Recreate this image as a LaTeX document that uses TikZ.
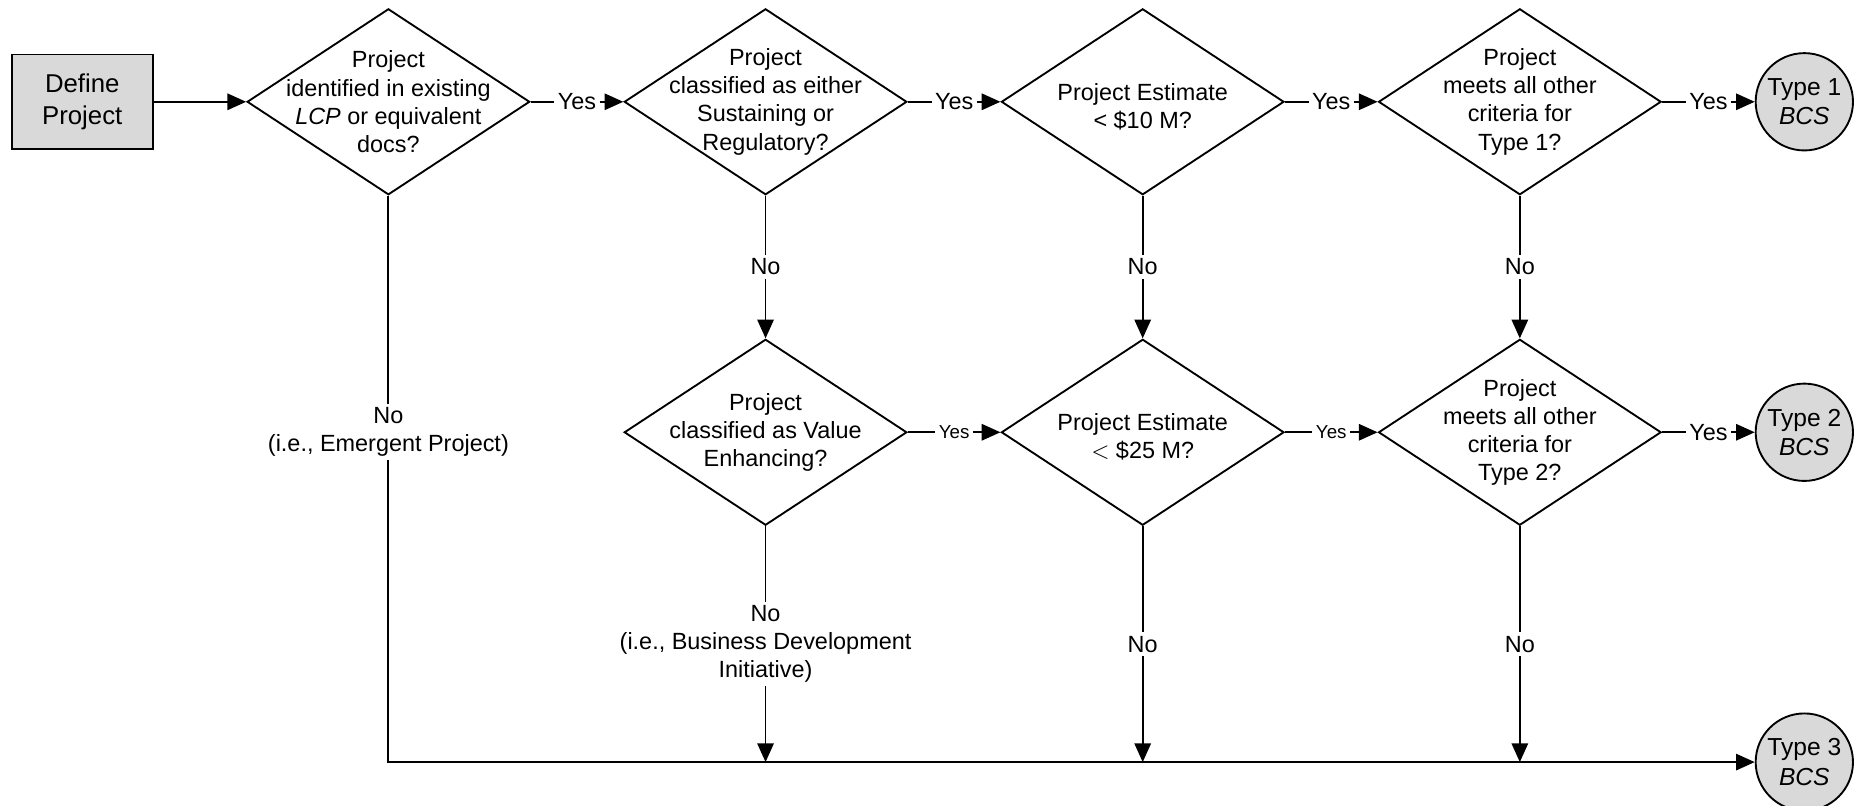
\documentclass[tikz,border=0pt]{standalone}
\usepackage{fontspec}
\setmainfont{Liberation Sans}
\usetikzlibrary{arrows.meta, shapes.geometric, positioning}
\definecolor{termgray}{RGB}{217, 217, 217}
\definecolor{linedark}{RGB}{0, 0, 0}
\tikzset{
  startbox/.style={
    rectangle, draw=linedark, fill=termgray, line width=0.8pt,
    minimum width=2.11cm, minimum height=1.42cm, align=center,
    font=\fontsize{11}{13.5}\selectfont
  },
  decision/.style={
    diamond, draw=linedark, line width=0.8pt, inner sep=0pt,
    minimum width=4.24cm, minimum height=2.79cm
  },
  qtext/.style={align=center},
  bcsnode/.style={
    circle, draw=linedark, fill=termgray, line width=0.8pt,
    inner sep=0pt, minimum size=1.46cm, align=center,
    font=\fontsize{10.5}{12.5}\selectfont
  },
  arrow/.style={-{Triangle[length=8pt,width=7pt]}, line width=0.8pt},
  lbl/.style={fill=white, inner sep=1.5pt, align=center},
  smalllbl/.style={lbl, font=\footnotesize}
}

\begin{document}
\begin{tikzpicture}[node distance=2.14cm and 1.39cm]

  \useasboundingbox (0,0) rectangle (27.83,-12.09);

  %% ---- Top row ----
  \node[startbox] (define) at (1.234,-1.527) {Define\\Project};

  \node[decision, right=of define,
    label={[qtext]center:Project\\identified in existing\\\textit{LCP} or equivalent\\docs?}] (d1) {};

  \node[decision, right=of d1,
    label={[qtext]center:Project\\classified as either\\Sustaining or\\Regulatory?}] (d2) {};

  \node[decision, right=of d2,
    label={[qtext, yshift=-2pt]center:Project Estimate\\< \$10 M?}] (d3) {};

  \node[decision, right=of d3,
    label={[qtext]center:Project\\meets all other\\criteria for\\Type 1?}] (d4) {};

  \node[bcsnode, right=of d4] (t1) {Type 1\\\textit{BCS}};

  %% ---- Second row ----
  \node[decision, below=of d2,
    label={[qtext]center:Project\\classified as Value\\Enhancing?}] (d5) {};

  \node[decision, right=of d5,
    label={[qtext, yshift=-2pt]center:Project Estimate\\$<$ \$25 M?}] (d6) {};

  \node[decision, right=of d6,
    label={[qtext]center:Project\\meets all other\\criteria for\\Type 2?}] (d7) {};

  \node[bcsnode, right=of d7] (t2) {Type 2\\\textit{BCS}};

  %% ---- Bottom ----
  \node[bcsnode, below=3.46cm of t2] (t3) {Type 3\\\textit{BCS}};
  \coordinate (busleft) at (d1 |- t3);

  %% ---- Yes branches ----
  \draw[arrow] (define) -- (d1);
  \draw[arrow] (d1) -- node[lbl]{Yes} (d2);
  \draw[arrow] (d2) -- node[lbl]{Yes} (d3);
  \draw[arrow] (d3) -- node[lbl]{Yes} (d4);
  \draw[arrow] (d4) -- node[lbl]{Yes} (t1);
  \draw[arrow] (d5) -- node[smalllbl]{Yes} (d6);
  \draw[arrow] (d6) -- node[smalllbl]{Yes} (d7);
  \draw[arrow] (d7) -- node[lbl]{Yes} (t2);

  %% ---- No branches ----
  \draw[arrow] (d2) -- node[lbl]{No} (d5);
  \draw[arrow] (d3) -- node[lbl]{No} (d6);
  \draw[arrow] (d4) -- node[lbl]{No} (d7);

  \draw[arrow] (d1.south)
    -- (d1 |- d5) node[lbl]{No\\(i.e., Emergent Project)}
    -- (busleft) -- (t3);

  \draw[arrow] (d5) -- node[lbl]{No\\(i.e., Business Development\\Initiative)} (d5 |- t3);
  \draw[arrow] (d6) -- node[lbl]{No} (d6 |- t3);
  \draw[arrow] (d7) -- node[lbl]{No} (d7 |- t3);

\end{tikzpicture}
\end{document}
